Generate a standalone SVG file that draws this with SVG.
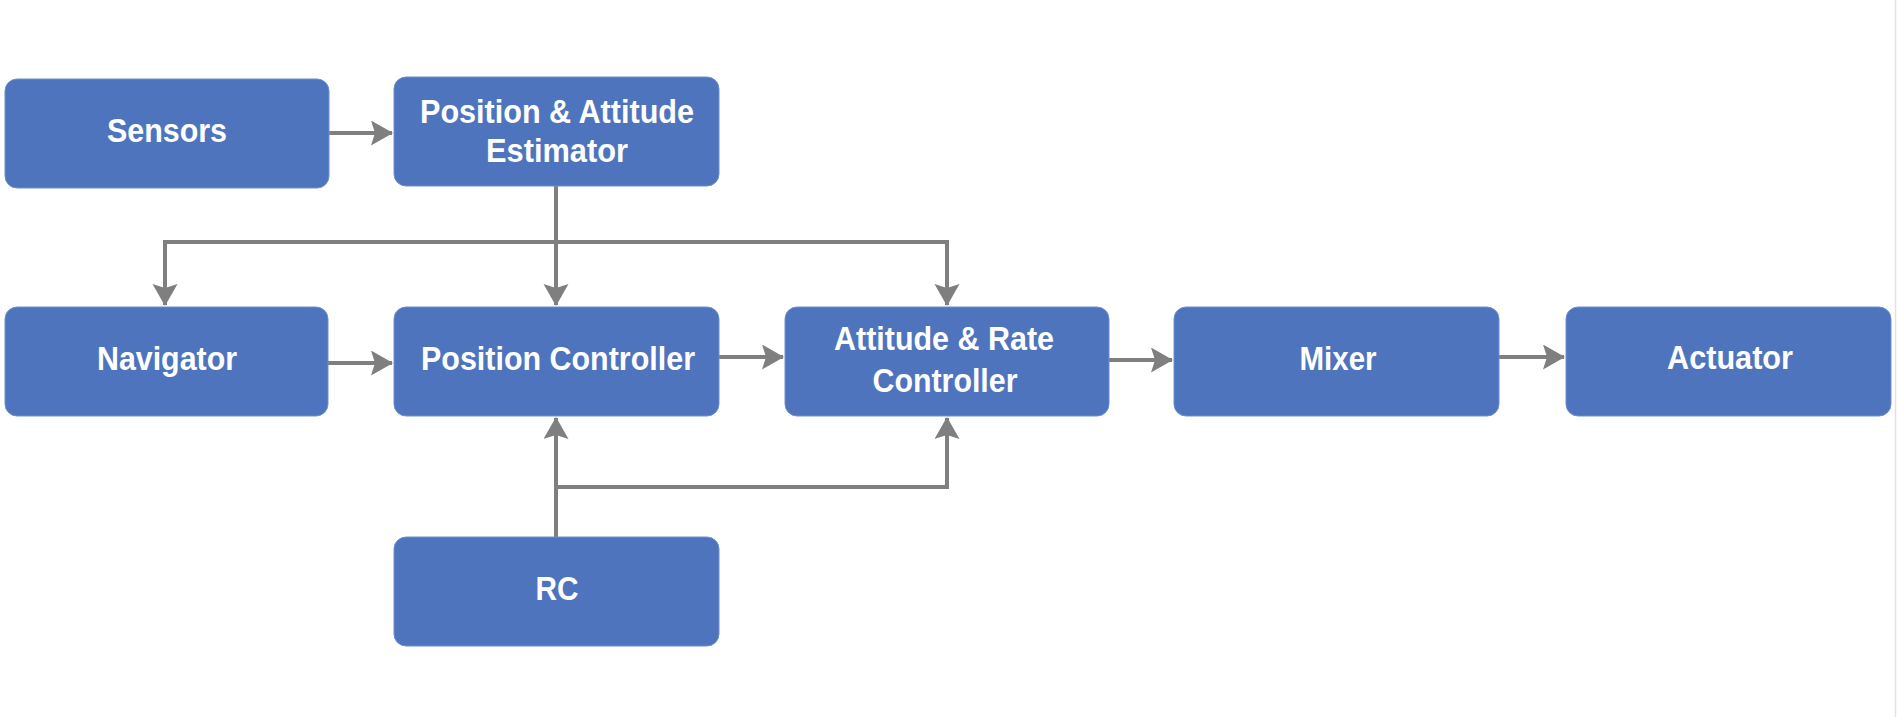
<svg xmlns="http://www.w3.org/2000/svg" width="1897" height="717" viewBox="0 0 1897 717">
<style>
.box{fill:#4F74BE;stroke:#6F8FCC;stroke-width:1}
.lbl{font-family:"Liberation Sans",Arial,sans-serif;font-weight:bold;font-size:34px;fill:#ffffff;text-anchor:middle}
.con{fill:none;stroke:#7F7F7F;stroke-width:4}
</style>
<defs>
<marker id="arr" markerUnits="userSpaceOnUse" markerWidth="24" markerHeight="26" refX="21" refY="12.5" orient="auto">
<path d="M0,0 L22,12.5 L0,25 L4,12.5 z" fill="#7F7F7F"/>
</marker>
</defs>
<rect width="1897" height="717" fill="#ffffff"/>
<line x1="1895.5" y1="0" x2="1895.5" y2="717" stroke="#E2E2E2" stroke-width="1.5"/>
<g id="connectors">
<path class="con" d="M329,133 H392" marker-end="url(#arr)"/>
<path class="con" d="M556,186 V242 H165 V305" marker-end="url(#arr)"/>
<path class="con" d="M556,242 V305" marker-end="url(#arr)"/>
<path class="con" d="M556,242 H947 V305" marker-end="url(#arr)"/>
<path class="con" d="M328,363 H392" marker-end="url(#arr)"/>
<path class="con" d="M719,357 H783" marker-end="url(#arr)"/>
<path class="con" d="M1109,360 H1172" marker-end="url(#arr)"/>
<path class="con" d="M1499,357 H1564" marker-end="url(#arr)"/>
<path class="con" d="M556,537 V418" marker-end="url(#arr)"/>
<path class="con" d="M556,487 H947 V418" marker-end="url(#arr)"/>
</g>
<g id="sensors">
<rect class="box" x="5" y="79" width="324" height="109" rx="12"/>
<text class="lbl" x="167" y="142" textLength="120" lengthAdjust="spacingAndGlyphs">Sensors</text>
</g>
<g id="estimator">
<rect class="box" x="394" y="77" width="325" height="109" rx="12"/>
<text class="lbl" x="557" y="123" textLength="274" lengthAdjust="spacingAndGlyphs">Position &amp; Attitude</text>
<text class="lbl" x="557" y="162" textLength="142" lengthAdjust="spacingAndGlyphs">Estimator</text>
</g>
<g id="navigator">
<rect class="box" x="5" y="307" width="323" height="109" rx="12"/>
<text class="lbl" x="167" y="370" textLength="140" lengthAdjust="spacingAndGlyphs">Navigator</text>
</g>
<g id="position-controller">
<rect class="box" x="394" y="307" width="325" height="109" rx="12"/>
<text class="lbl" x="558" y="370" textLength="274" lengthAdjust="spacingAndGlyphs">Position Controller</text>
</g>
<g id="attitude-rate-controller">
<rect class="box" x="785" y="307" width="324" height="109" rx="12"/>
<text class="lbl" x="944" y="350" textLength="220" lengthAdjust="spacingAndGlyphs">Attitude &amp; Rate</text>
<text class="lbl" x="945" y="392" textLength="145" lengthAdjust="spacingAndGlyphs">Controller</text>
</g>
<g id="mixer">
<rect class="box" x="1174" y="307" width="325" height="109" rx="12"/>
<text class="lbl" x="1338" y="370" textLength="77" lengthAdjust="spacingAndGlyphs">Mixer</text>
</g>
<g id="actuator">
<rect class="box" x="1566" y="307" width="325" height="109" rx="12"/>
<text class="lbl" x="1730" y="369" textLength="126" lengthAdjust="spacingAndGlyphs">Actuator</text>
</g>
<g id="rc">
<rect class="box" x="394" y="537" width="325" height="109" rx="12"/>
<text class="lbl" x="557" y="600" textLength="43" lengthAdjust="spacingAndGlyphs">RC</text>
</g>
</svg>
